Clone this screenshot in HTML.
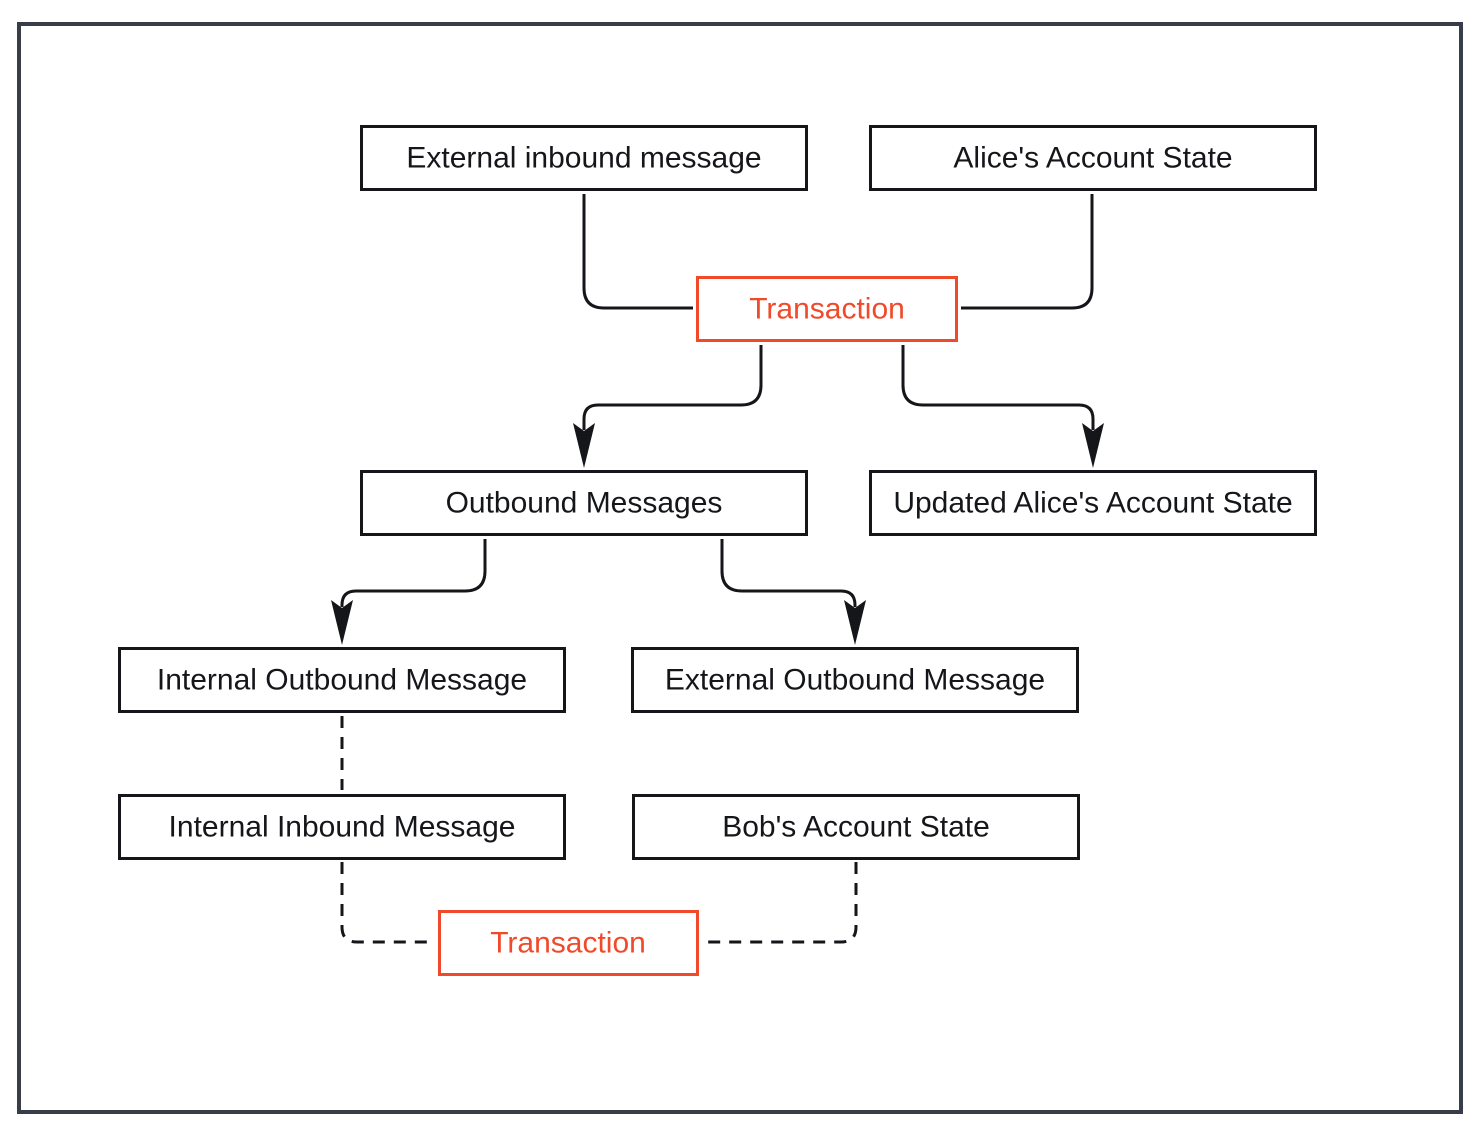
<!DOCTYPE html>
<html><head><style>
body{margin:0;background:#fff;width:1480px;height:1136px;overflow:hidden}
text{font-family:"Liberation Sans",sans-serif;font-size:30px;text-anchor:middle;dominant-baseline:central}
</style></head><body>
<svg width="1480" height="1136" viewBox="0 0 1480 1136">
<rect x="19" y="24" width="1442" height="1088" fill="none" stroke="#373e4a" stroke-width="4"/>
<g fill="none" stroke="#15161a" stroke-width="3">
<rect x="361.5" y="126.5" width="445" height="63"/>
<rect x="870.5" y="126.5" width="445" height="63"/>
<rect x="361.5" y="471.5" width="445" height="63"/>
<rect x="870.5" y="471.5" width="445" height="63"/>
<rect x="119.5" y="648.5" width="445" height="63"/>
<rect x="632.5" y="648.5" width="445" height="63"/>
<rect x="119.5" y="795.5" width="445" height="63"/>
<rect x="633.5" y="795.5" width="445" height="63"/>
<path d="M584,194 V288 Q584,308 604,308 H693"/>
<path d="M1092,194 V288 Q1092,308 1072,308 H961"/>
<path d="M761,345 V385 Q761,405 741,405 H598 Q584,405 584,419 V430"/>
<path d="M903,345 V385 Q903,405 923,405 H1079 Q1093,405 1093,419 V430"/>
<path d="M485,539 V571 Q485,591 465,591 H356 Q342,591 342,605 V607"/>
<path d="M722,539 V571 Q722,591 742,591 H841 Q855,591 855,605 V607"/>
<g stroke-dasharray="12,9"><path d="M342,716 V790"/>
<path d="M342,862 V927 Q342,942 357,942 H435"/>
<path d="M856,862 V927 Q856,942 841,942 H703"/></g>
</g>
<g fill="#15161a">
<path d="M573,423 L584,431 L595,423 L584,468 Z"/>
<path d="M1082,423 L1093,431 L1104,423 L1093,468 Z"/>
<path d="M331,600 L342,608 L353,600 L342,645 Z"/>
<path d="M844,600 L855,608 L866,600 L855,645 Z"/>
</g>
<g fill="none" stroke="#f04a2a" stroke-width="3">
<rect x="697.5" y="277.5" width="259" height="63"/>
<rect x="439.5" y="911.5" width="258" height="63"/>
</g>
<g fill="#15161a">
<text x="584" y="158">External inbound message</text>
<text x="1093" y="158">Alice's Account State</text>
<text x="584" y="503">Outbound Messages</text>
<text x="1093" y="503">Updated Alice's Account State</text>
<text x="342" y="680">Internal Outbound Message</text>
<text x="855" y="680">External Outbound Message</text>
<text x="342" y="827">Internal Inbound Message</text>
<text x="856" y="827">Bob's Account State</text>
</g>
<g fill="#f04a2a">
<text x="827" y="309">Transaction</text>
<text x="568" y="943">Transaction</text>
</g>
</svg>
</body></html>
